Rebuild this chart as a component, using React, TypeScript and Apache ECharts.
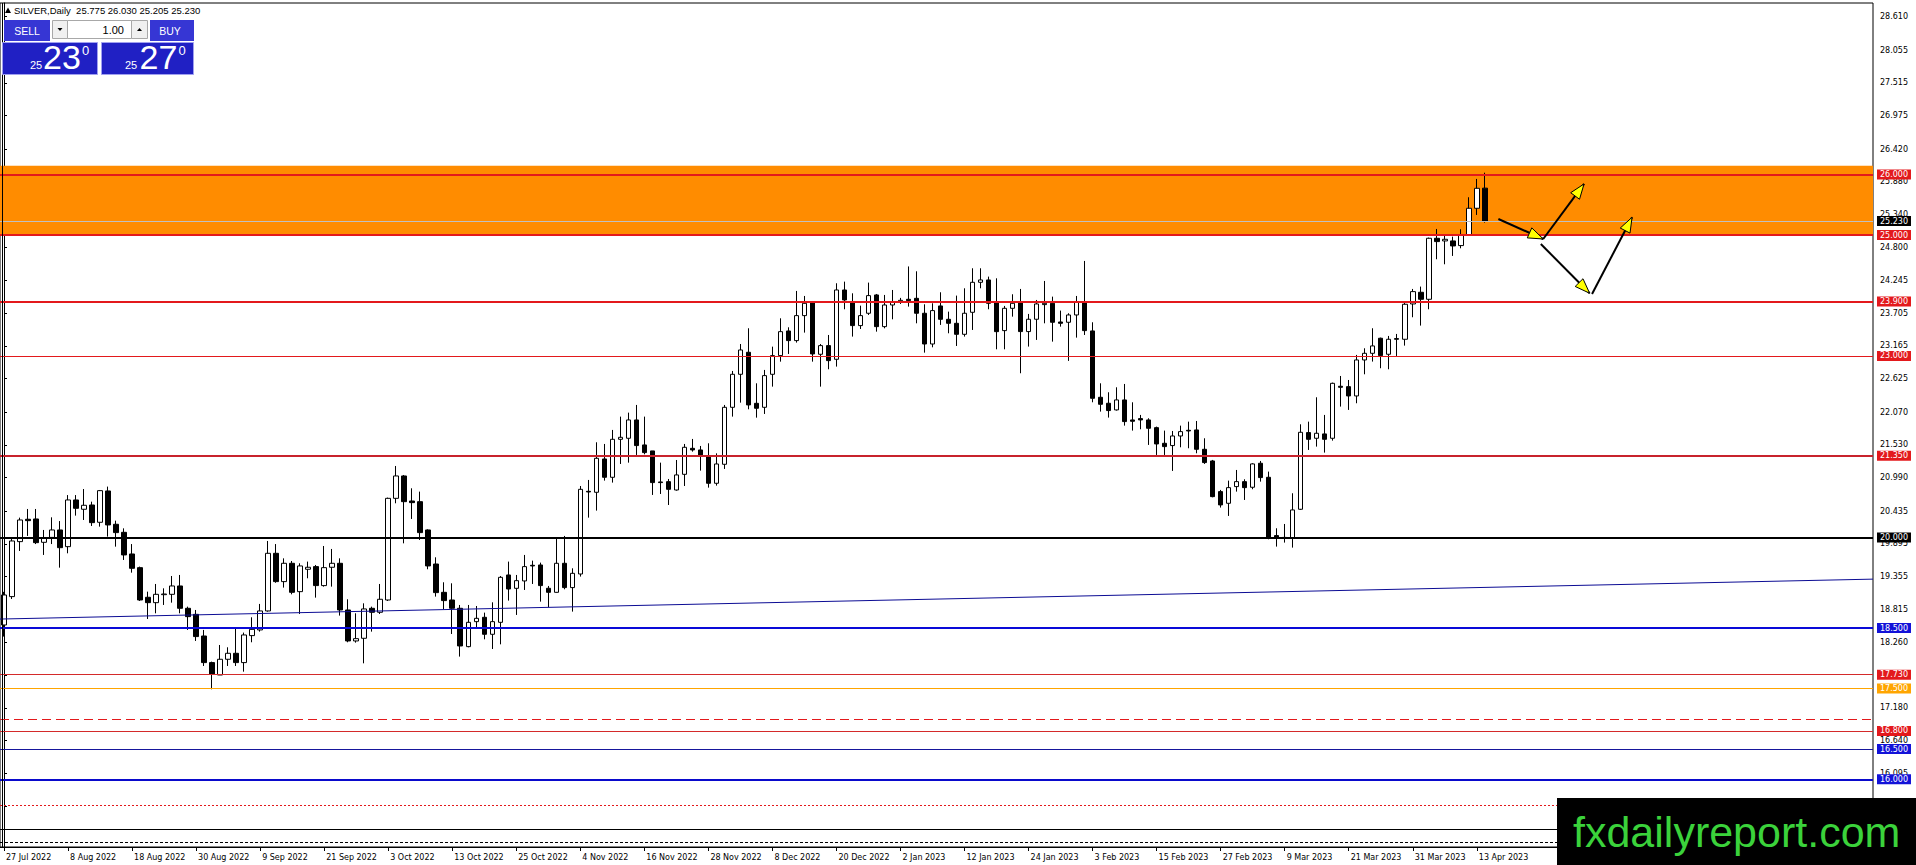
import React, { useEffect, useRef } from "react";
import * as echarts from "echarts";

// ---------- data ----------
const symbolName = "SILVER,Daily";
const lastBar = [25.775, 26.03, 25.205, 25.23]; // O H L C of the current bar
const bidPrice = 25.23;
const sellQuote = ["25", "23", "0"];
const buyQuote = ["25", "27", "0"];
const lotSize = "1.00";
const watermark = "fxdailyreport.com";

const tickLabels = [
  "27 Jul 2022", "8 Aug 2022", "18 Aug 2022", "30 Aug 2022", "9 Sep 2022", "21 Sep 2022",
  "3 Oct 2022", "13 Oct 2022", "25 Oct 2022", "4 Nov 2022", "16 Nov 2022", "28 Nov 2022",
  "8 Dec 2022", "20 Dec 2022", "2 Jan 2023", "12 Jan 2023", "24 Jan 2023", "3 Feb 2023",
  "15 Feb 2023", "27 Feb 2023", "9 Mar 2023", "21 Mar 2023", "31 Mar 2023", "13 Apr 2023",
];
const barsPerLabel = 8;
const totalSlots = 234;

const priceTicks = [
  28.61, 28.055, 27.515, 26.975, 26.42, 25.88, 25.34, 24.8, 24.245, 23.705, 23.165, 22.625,
  22.07, 21.53, 20.99, 20.435, 19.895, 19.355, 18.815, 18.26, 17.72, 17.18, 16.64, 16.095, 15.55,
];
const yMin = 14.881;
const yMax = 28.836;

const opens = [
  18.552, 19.021, 19.93, 20.3, 20.305, 19.919, 20.0, 20.123, 19.847, 20.619,
  20.465, 20.536, 20.25, 20.768, 20.217, 20.084, 19.726, 19.5, 19.01, 18.921,
  19.053, 19.059, 19.197, 18.828, 18.728, 18.37, 17.93, 17.725, 17.985, 18.084,
  17.93, 18.376, 18.47, 18.784, 19.737, 19.269, 19.572, 19.103, 19.473, 19.517,
  19.203, 19.506, 19.572, 18.8, 18.288, 18.332, 18.828, 18.762, 18.965, 20.646,
  21.016, 20.602, 20.591, 20.123, 19.56, 19.092, 18.965, 18.828, 18.194, 18.607,
  18.679, 18.398, 18.596, 19.379, 19.158, 19.28, 19.539, 19.544, 19.159, 19.092,
  19.572, 19.17, 19.395, 20.762, 20.746, 21.297, 20.994, 21.622, 21.639, 21.942,
  21.529, 21.43, 20.917, 20.922, 20.784, 21.043, 21.473, 21.446, 21.347, 20.895,
  21.209, 22.151, 22.697, 23.061, 22.217, 22.151, 22.697, 23.006, 23.413, 23.254,
  23.667, 23.882, 23.028, 23.171, 22.945, 24.091, 23.898, 23.502, 23.706, 24.009,
  23.485, 23.843, 23.9, 23.937, 23.953, 23.706, 23.198, 23.827, 23.606, 23.54,
  23.358, 23.722, 24.218, 24.257, 23.882, 23.419, 23.788, 23.899, 23.403, 23.607,
  23.849, 23.871, 23.562, 23.557, 23.678, 23.899, 23.414, 22.317, 22.218, 22.108,
  22.273, 21.942, 21.964, 21.942, 21.815, 21.556, 21.518, 21.677, 21.771, 21.777,
  21.457, 21.264, 20.757, 20.564, 20.84, 20.922, 20.829, 21.226, 20.994, 20.03,
  19.99, 19.997, 20.465, 21.733, 21.639, 21.711, 21.639, 22.499, 22.493, 22.339,
  22.934, 23.044, 23.293, 23.028, 23.287, 23.276, 23.86, 24.053, 23.937, 24.946,
  24.902, 24.902, 24.825, 25.001, 25.442, 25.775,
];
const highs = [
  19.1, 19.985, 20.327, 20.47, 20.47, 20.123, 20.332, 20.27, 20.7, 20.7,
  20.8, 20.591, 20.784, 20.84, 20.277, 20.15, 19.89, 19.517, 19.103, 19.23,
  19.158, 19.362, 19.379, 18.855, 18.8, 18.47, 17.946, 18.221, 18.183, 18.508,
  18.426, 18.679, 18.9, 19.941, 19.89, 19.654, 19.61, 19.572, 19.6, 19.544,
  19.858, 19.809, 19.654, 18.977, 18.745, 18.91, 18.855, 19.23, 20.658, 21.181,
  21.032, 20.812, 20.757, 20.134, 19.671, 19.258, 19.241, 18.883, 18.883, 18.866,
  18.756, 18.927, 19.362, 19.6, 19.379, 19.71, 19.616, 19.583, 19.197, 19.996,
  20.024, 19.489, 20.85, 20.95, 21.573, 21.545, 21.777, 21.997, 22.063, 22.19,
  21.997, 21.43, 21.236, 20.966, 21.28, 21.545, 21.628, 21.512, 21.556, 21.39,
  22.19, 22.752, 23.198, 23.458, 22.548, 22.769, 23.154, 23.623, 23.474, 24.075,
  23.992, 23.909, 23.198, 23.347, 24.202, 24.229, 24.036, 23.832, 24.213, 24.025,
  24.009, 24.091, 23.96, 24.48, 24.4, 23.854, 23.871, 24.053, 23.733, 23.998,
  24.119, 24.45, 24.45, 24.312, 24.284, 23.827, 24.02, 24.108, 23.695, 23.926,
  24.24, 23.981, 23.75, 23.706, 23.992, 24.571, 23.557, 22.548, 22.4, 22.482,
  22.537, 22.234, 22.025, 21.97, 21.832, 21.766, 21.76, 21.848, 21.914, 21.925,
  21.639, 21.281, 20.785, 20.939, 21.115, 20.961, 21.226, 21.264, 21.088, 20.151,
  20.222, 20.73, 21.87, 21.914, 22.317, 22.025, 22.559, 22.669, 22.603, 23.017,
  23.127, 23.458, 23.303, 23.331, 23.364, 23.882, 24.108, 24.147, 24.957, 25.1,
  25.001, 24.973, 25.095, 25.624, 25.927, 26.03,
];
const lows = [
  18.36, 18.982, 19.776, 20.024, 19.89, 19.71, 19.89, 19.5, 19.737, 20.36,
  20.288, 20.189, 20.178, 20.013, 19.847, 19.627, 19.417, 18.949, 18.651, 18.745,
  18.883, 18.921, 18.745, 18.47, 18.288, 17.874, 17.489, 17.725, 17.874, 17.874,
  17.78, 18.266, 18.442, 18.773, 19.25, 19.17, 19.059, 18.734, 19.324, 19.004,
  19.186, 19.186, 18.707, 18.266, 18.26, 17.918, 18.442, 18.734, 18.949, 20.564,
  19.902, 20.305, 19.957, 19.473, 19.021, 18.811, 18.403, 18.029, 18.183, 18.497,
  18.315, 18.155, 18.232, 18.955, 18.718, 19.131, 19.23, 18.938, 18.844, 19.087,
  19.142, 18.773, 19.352, 20.327, 20.443, 20.939, 20.906, 21.214, 21.236, 21.363,
  21.374, 20.702, 20.718, 20.536, 20.773, 20.85, 21.418, 21.104, 20.823, 20.856,
  21.132, 21.997, 22.228, 22.118, 21.98, 22.041, 22.493, 22.906, 23.033, 23.221,
  23.386, 22.906, 22.493, 22.78, 22.824, 23.772, 23.32, 23.446, 23.678, 23.402,
  23.457, 23.606, 23.86, 23.816, 23.54, 23.055, 23.143, 23.513, 23.375, 23.165,
  23.32, 23.43, 24.119, 23.772, 23.11, 23.11, 23.65, 22.714, 23.155, 23.265,
  23.54, 23.237, 23.485, 22.918, 23.303, 23.347, 22.234, 22.08, 21.981, 22.097,
  21.848, 21.766, 21.788, 21.529, 21.363, 21.363, 21.099, 21.49, 21.474, 21.391,
  21.215, 20.663, 20.493, 20.355, 20.757, 20.619, 20.796, 20.922, 19.969, 19.848,
  19.914, 19.831, 20.454, 21.446, 21.501, 21.402, 21.6, 22.163, 22.108, 22.218,
  22.697, 22.907, 22.797, 22.78, 23.0, 23.171, 23.64, 23.502, 23.772, 24.599,
  24.516, 24.654, 24.78, 24.996, 25.332, 25.205,
];
const closes = [
  19.048, 19.941, 20.288, 20.277, 19.913, 19.985, 20.123, 19.83, 20.619, 20.481,
  20.531, 20.244, 20.773, 20.206, 20.079, 19.71, 19.489, 18.965, 18.921, 19.059,
  19.064, 19.197, 18.828, 18.69, 18.36, 17.93, 17.742, 17.985, 18.084, 17.93,
  18.387, 18.48, 18.784, 19.737, 19.269, 19.572, 19.092, 19.528, 19.506, 19.203,
  19.5, 19.572, 18.8, 18.288, 18.326, 18.817, 18.762, 18.977, 20.646, 21.016,
  20.591, 20.575, 20.079, 19.528, 19.087, 18.955, 18.828, 18.205, 18.596, 18.662,
  18.398, 18.607, 19.34, 19.147, 19.285, 19.517, 19.528, 19.203, 19.092, 19.572,
  19.17, 19.406, 20.795, 20.751, 21.308, 20.994, 21.622, 21.655, 21.942, 21.518,
  21.402, 20.906, 20.906, 20.795, 21.033, 21.49, 21.446, 21.363, 20.895, 21.214,
  22.151, 22.697, 23.099, 22.19, 22.135, 22.675, 23.006, 23.402, 23.254, 23.667,
  23.871, 23.033, 23.171, 22.923, 24.091, 23.926, 23.502, 23.667, 23.998, 23.485,
  23.843, 23.898, 23.92, 23.915, 23.706, 23.198, 23.75, 23.606, 23.54, 23.358,
  23.706, 24.218, 24.257, 23.871, 23.402, 23.788, 23.871, 23.403, 23.607, 23.86,
  23.871, 23.557, 23.54, 23.678, 23.899, 23.419, 22.3, 22.201, 22.097, 22.273,
  21.915, 21.92, 21.942, 21.804, 21.545, 21.501, 21.677, 21.749, 21.76, 21.457,
  21.237, 20.674, 20.537, 20.823, 20.922, 20.823, 21.215, 20.989, 19.985, 19.997,
  20.0, 20.454, 21.738, 21.622, 21.722, 21.622, 22.548, 22.482, 22.339, 22.934,
  23.044, 23.166, 23.006, 23.276, 23.276, 23.855, 24.064, 23.937, 24.946, 24.891,
  24.929, 24.819, 25.001, 25.442, 25.772, 25.23,
];

// resistance / support zone and horizontal levels
const zoneTop = 26.146;
const zoneBottom = 25.0;
const levelPrices = [26.0, 25.0, 23.9, 23.0, 21.35, 20.0, 18.5, 17.73, 17.5, 16.8, 16.5, 16.0];
const guidePrices = [16.99, 15.57, 15.173, 14.958];
// trend line [bar index, price]
const trendPoints = [
  [-0.5, 18.65],
  [233.5, 19.31],
];
// arrows [fromBar, fromPrice, toBar, toPrice]
const arrowSegments = [
  [186.7, 25.265, 192.3, 24.934],
  [192.3, 24.934, 197.4, 25.844],
  [192.0, 24.851, 198.1, 24.037],
  [198.4, 24.025, 203.4, 25.293],
];

// ---------- styles (kept apart from the data) ----------
const RED = "#e3191c";
const BLUE = "#1212d8";
const levelStyles = [
  { line: RED, width: 2, box: RED },
  { line: RED, width: 2, box: RED },
  { line: RED, width: 2, box: RED },
  { line: RED, width: 1, box: RED },
  { line: "#c8232c", width: 2, box: RED },
  { line: "#000000", width: 2, box: "#000000" },
  { line: "#0a0ad8", width: 2, box: BLUE },
  { line: "#d42a2a", width: 1, box: RED },
  { line: "#ffa500", width: 1, box: "#ffa500" },
  { line: "#d42a2a", width: 1, box: RED },
  { line: "#16169c", width: 1, box: BLUE },
  { line: "#0a0acc", width: 2, box: BLUE },
];
const guideStyles = [
  { color: "#e3191c", width: 1, type: [9, 5] },
  { color: "#e3191c", width: 1, type: [2, 2] },
  { color: "#000000", width: 1, type: "solid" },
  { color: "#000000", width: 1, type: [3, 2] },
];

const AXIS_FONT = '"DejaVu Sans", Verdana, sans-serif';
const UI_FONT = '"Liberation Sans", Arial, sans-serif';

function buildGraphic() {
  const els: any[] = [];
  const txt = (x: number, y: number, text: string, size: number, fill: string, align = "left", family = UI_FONT) => ({
    type: "text",
    x,
    y,
    z: 50,
    silent: true,
    style: {
      text,
      fill,
      fontSize: size,
      fontFamily: family,
      align,
      textAlign: align,
      verticalAlign: "middle",
      textVerticalAlign: "middle",
    },
  });
  const rect = (x: number, y: number, w: number, h: number, fill: string, stroke?: string) => ({
    type: "rect",
    z: 49,
    silent: true,
    shape: { x, y, width: w, height: h },
    style: { fill, stroke: stroke || null, lineWidth: stroke ? 1 : 0 },
  });

  // chart's left border (MT4 draws it 2px in)
  els.push({ type: "line", z: 10, silent: true, shape: { x1: 2.5, y1: 3, x2: 2.5, y2: 847 }, style: { stroke: "#000", lineWidth: 1 } });

  // header line
  els.push({ type: "polygon", z: 50, silent: true, shape: { points: [[5, 13], [11, 13], [8, 7.5]] }, style: { fill: "#000" } });
  els.push(txt(14, 10.5, `${symbolName}  ${lastBar.map((v) => v.toFixed(3)).join(" ")}`, 9.5, "#000"));

  // one-click trading panel
  els.push(rect(4, 20, 46, 21, "#3636d4"));
  els.push(txt(27, 31, "SELL", 10.5, "#fff", "center"));
  els.push(rect(52.5, 20.5, 15, 18, "#f0f0f0", "#a8a8a8"));
  els.push({ type: "polygon", z: 50, silent: true, shape: { points: [[57.5, 28], [62.5, 28], [60, 31]] }, style: { fill: "#000" } });
  els.push(rect(67.5, 20.5, 64, 18, "#ffffff", "#a8a8a8"));
  els.push(txt(124, 30, lotSize, 11, "#000", "right"));
  els.push(rect(131.5, 20.5, 16, 18, "#f0f0f0", "#a8a8a8"));
  els.push({ type: "polygon", z: 50, silent: true, shape: { points: [[137, 31], [142, 31], [139.5, 28]] }, style: { fill: "#000" } });
  els.push(rect(150, 20, 44, 21, "#3636d4"));
  els.push(txt(170, 31, "BUY", 10.5, "#fff", "center"));

  els.push(rect(2.5, 42.5, 95, 32, "#2020c4", "#a0a0f0"));
  els.push(rect(101.5, 42.5, 92, 32, "#2020c4", "#a0a0f0"));
  els.push(txt(30, 64.5, sellQuote[0], 11, "#fff"));
  els.push(txt(43, 56.5, sellQuote[1], 34, "#fff"));
  els.push(txt(82, 50.5, sellQuote[2], 13, "#fff"));
  els.push(txt(125, 64.5, buyQuote[0], 11, "#fff"));
  els.push(txt(139.5, 56.5, buyQuote[1], 34, "#fff"));
  els.push(txt(178.5, 50.5, buyQuote[2], 13, "#fff"));

  // watermark
  els.push({ type: "rect", z: 100, silent: true, shape: { x: 1557, y: 798, width: 359, height: 67 }, style: { fill: "#000" } });
  els.push({
    type: "text",
    z: 101,
    silent: true,
    x: 1573,
    y: 832,
    style: {
      text: watermark,
      fill: "#3bd23b",
      fontSize: 43,
      fontFamily: UI_FONT,
      align: "left",
      textAlign: "left",
      verticalAlign: "middle",
      textVerticalAlign: "middle",
    },
  });
  return els;
}

function buildOption() {
  const slots = Array.from({ length: totalSlots }, (_, i) => String(i));
  const candleData = opens.map((o, i) => [o, closes[i], lows[i], highs[i]]);
  const labelShown = (index: number) => index % barsPerLabel === 0 && index / barsPerLabel < tickLabels.length;

  const priceLabel = (text: string, box: string) => ({
    show: true,
    position: "end",
    distance: 4,
    formatter: text,
    color: "#fff",
    backgroundColor: box,
    padding: [1, 3, 0, 3],
    fontSize: 8,
    lineHeight: 9,
    fontFamily: AXIS_FONT,
  });

  const levelLines = levelPrices.map((p, i) => ({
    yAxis: p,
    lineStyle: { color: levelStyles[i].line, width: levelStyles[i].width, type: "solid" },
    label: priceLabel(p.toFixed(3), levelStyles[i].box),
  }));
  const guideLines = guidePrices.map((p, i) => ({
    yAxis: p,
    lineStyle: { color: guideStyles[i].color, width: guideStyles[i].width, type: guideStyles[i].type },
    label: { show: false },
  }));
  const bidLine = {
    yAxis: bidPrice,
    lineStyle: { color: "#c0c0c0", width: 1, type: "solid" },
    label: priceLabel(bidPrice.toFixed(3), "#000"),
  };

  return {
    animation: false,
    backgroundColor: "#ffffff",
    grid: { left: 0, right: 43, top: 3, bottom: 18, show: true, borderColor: "#000", borderWidth: 1, backgroundColor: "transparent" },
    xAxis: [
      {
        type: "category",
        data: slots,
        boundaryGap: true,
        axisLine: { show: true, lineStyle: { color: "#000", width: 1 } },
        axisTick: { show: true, alignWithLabel: true, interval: labelShown, length: 4, lineStyle: { color: "#000" } },
        axisLabel: {
          interval: labelShown,
          formatter: (_v: string, index: number) => tickLabels[index / barsPerLabel] || "",
          align: "left",
          color: "#000",
          fontSize: 8,
          fontFamily: AXIS_FONT,
          margin: 6,
          padding: [0, 0, 0, 2],
        },
        splitLine: { show: false },
      },
      { type: "value", min: -0.5, max: totalSlots - 0.5, show: false, gridIndex: 0 },
    ],
    yAxis: {
      type: "value",
      position: "right",
      min: yMin,
      max: yMax,
      axisLine: { show: true, lineStyle: { color: "#000", width: 1 } },
      axisTick: { show: true, customValues: priceTicks, length: 3, lineStyle: { color: "#000" } },
      axisLabel: {
        customValues: priceTicks,
        formatter: (v: number) => v.toFixed(3),
        color: "#000",
        fontSize: 8,
        fontFamily: AXIS_FONT,
        margin: 7,
      },
      splitLine: { show: false },
    },
    series: [
      {
        type: "line",
        name: "zone",
        data: [],
        z: 1,
        silent: true,
        markArea: {
          silent: true,
          itemStyle: { color: "#ff8c00" },
          data: [[{ yAxis: zoneTop }, { yAxis: zoneBottom }]],
        },
      },
      {
        type: "line",
        name: "bid",
        data: [],
        z: 2,
        silent: true,
        markLine: { silent: true, symbol: ["none", "none"], animation: false, data: [bidLine] },
      },
      {
        type: "candlestick",
        name: "SILVER",
        data: candleData,
        barWidth: 5,
        z: 3,
        itemStyle: { color: "#ffffff", color0: "#000000", borderColor: "#000000", borderColor0: "#000000", borderWidth: 1 },
      },
      {
        type: "line",
        name: "levels",
        data: [],
        z: 4,
        silent: true,
        markLine: { silent: true, symbol: ["none", "none"], animation: false, data: [...levelLines, ...guideLines] },
      },
      {
        type: "line",
        name: "trend",
        xAxisIndex: 1,
        data: trendPoints,
        symbol: "none",
        silent: true,
        z: 4,
        lineStyle: { color: "#0c0c94", width: 1 },
      },
      {
        type: "custom",
        name: "arrows",
        xAxisIndex: 1,
        data: arrowSegments,
        z: 6,
        silent: true,
        clip: false,
        encode: { x: [0, 2], y: [1, 3] },
        renderItem: (_params: any, api: any) => {
          const a = api.coord([api.value(0), api.value(1)]);
          const b = api.coord([api.value(2), api.value(3)]);
          const dx = b[0] - a[0];
          const dy = b[1] - a[1];
          const len = Math.hypot(dx, dy) || 1;
          const ux = dx / len;
          const uy = dy / len;
          const hl = 15;
          const hw = 5.5;
          const bx = b[0] - ux * hl;
          const by = b[1] - uy * hl;
          return {
            type: "group",
            children: [
              { type: "line", shape: { x1: a[0], y1: a[1], x2: b[0], y2: b[1] }, style: { stroke: "#000", lineWidth: 2 } },
              {
                type: "polygon",
                shape: { points: [[b[0], b[1]], [bx - uy * hw, by + ux * hw], [bx + uy * hw, by - ux * hw]] },
                style: { fill: "#ffff00", stroke: "#000", lineWidth: 1 },
              },
            ],
          };
        },
      },
    ],
    graphic: buildGraphic(),
  };
}

export default function App() {
  const ref = useRef<HTMLDivElement>(null);
  useEffect(() => {
    if (!ref.current) return;
    const chart = echarts.init(ref.current, undefined, { renderer: "svg" });
    chart.setOption(buildOption() as any);
    return () => chart.dispose();
  }, []);
  return <div ref={ref} style={{ position: "absolute", left: 0, top: 0, width: 1916, height: 865, background: "#fff" }} />;
}
